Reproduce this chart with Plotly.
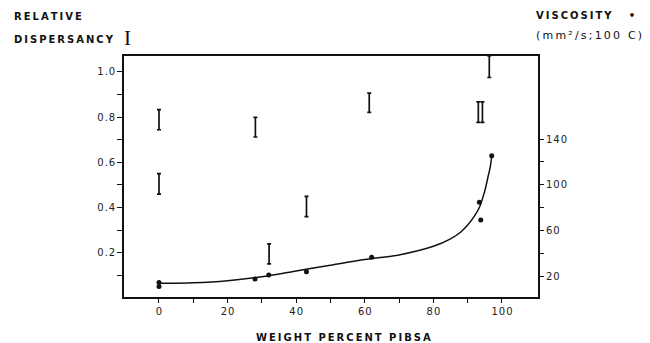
import plotly.graph_objects as go

# ---------------- data ----------------
# viscosity measurements (mm2/s at 100 C), right axis
visc_x = [0, 0, 28, 32, 43, 62, 93.4, 93.8, 97]
visc_y = [15, 11.5, 18, 21.4, 24.3, 37, 85, 69.5, 125.5]

# fitted viscosity curve, right axis
curve_x = [0, 10, 20, 30, 40, 50, 60, 70, 80, 85, 88, 90, 92, 93.5, 95, 96, 96.6, 97]
curve_y = [14.2, 14.7, 16.5, 20, 25, 30, 35, 39, 46.5, 53, 59, 65, 73, 81, 95, 108, 116, 125]

# relative dispersancy ranges (left axis)
disp_x = [0, 0, 28.1, 32.1, 43, 61.3, 93.1, 94.3, 96.3]
disp_lo = [0.744, 0.46, 0.712, 0.151, 0.36, 0.821, 0.777, 0.777, 0.975]
disp_hi = [0.833, 0.55, 0.799, 0.240, 0.45, 0.906, 0.867, 0.867, 1.07]

x_ticks = [0, 10, 20, 30, 40, 50, 60, 70, 80, 90, 100]
x_labels = ["0", "", "20", "", "40", "", "60", "", "80", "", "100"]
yl_ticks = [0.1, 0.2, 0.3, 0.4, 0.5, 0.6, 0.7, 0.8, 0.9, 1.0]
yl_labels = ["", "0.2", "", "0.4", "", "0.6", "", "0.8", "", "1.0"]
yr_ticks = [20, 40, 60, 80, 100, 120, 140]
yr_labels = ["20", "", "60", "", "100", "", "140"]

# ---------------- layout geometry ----------------
W, H = 650, 343
L, R, T, B = 124, 112, 56, 46
PW, PH = W - L - R, H - T - B


def px(x):
    return (x - L) / PW


def py(y):
    return (H - B - y) / PH


HS = "\u200a"
TS = "\u2009"
NB = "\u00a0"


def spaced(s, sep=TS, gap=NB):
    return (sep + gap + sep).join(sep.join(list(w)) for w in s.split(" "))


def tspaced(s):
    return HS.join(list(s))


mid = [(a + b) / 2 for a, b in zip(disp_lo, disp_hi)]
up = [b - m for b, m in zip(disp_hi, mid)]
dn = [m - a for a, m in zip(disp_lo, mid)]

fig = go.Figure()

fig.add_trace(go.Scatter(
    x=disp_x, y=mid, mode="markers",
    marker=dict(size=1, color="rgba(0,0,0,0)"),
    error_y=dict(type="data", symmetric=False, array=up, arrayminus=dn,
                 color="#111", thickness=1.7, width=2.0),
    hoverinfo="skip", showlegend=False, yaxis="y",
))

fig.add_trace(go.Scatter(
    x=curve_x, y=curve_y, mode="lines",
    line=dict(color="#111", width=1.5, shape="spline", smoothing=0.8),
    showlegend=False, yaxis="y2",
))

fig.add_trace(go.Scatter(
    x=visc_x, y=visc_y, mode="markers",
    marker=dict(size=5, color="#111"),
    showlegend=False, yaxis="y2",
))

tickfont = dict(family="DejaVu Sans", size=10, color="#222")
boldfont = dict(family="DejaVu Sans", size=10, color="#111", weight="bold")

fig.update_layout(
    width=W, height=H,
    margin=dict(l=L, r=R, t=T, b=B, pad=0),
    paper_bgcolor="white", plot_bgcolor="white",
    showlegend=False,
    xaxis=dict(
        range=[-10.2, 110.5], tickvals=x_ticks, ticktext=[tspaced(s) for s in x_labels],
        ticks="outside", ticklen=4, tickwidth=1, tickcolor="#111",
        showline=True, linecolor="#111", linewidth=1.6, mirror=True,
        showgrid=False, zeroline=False, tickfont=tickfont,
    ),
    yaxis=dict(
        range=[0.005, 1.07], tickvals=yl_ticks, ticktext=[tspaced(s) for s in yl_labels],
        ticks="outside", ticklen=5, tickwidth=1, tickcolor="#111",
        showline=True, linecolor="#111", linewidth=1.6, mirror=True,
        showgrid=False, zeroline=False, tickfont=tickfont,
    ),
    yaxis2=dict(
        range=[2.3, 212.4], overlaying="y", side="right",
        tickvals=yr_ticks, ticktext=[tspaced(s) for s in yr_labels],
        ticks="outside", ticklen=5, tickwidth=1, tickcolor="#111",
        showline=False, showgrid=False, zeroline=False, tickfont=tickfont,
    ),
)

ann = [
    dict(text=spaced("RELATIVE"), x=px(12), y=py(17), xanchor="left", yanchor="middle", font=boldfont),
    dict(text=spaced("DISPERSANCY"), x=px(12), y=py(39), xanchor="left", yanchor="middle", font=boldfont),
    dict(text="I", x=px(127), y=py(37.5), xanchor="center", yanchor="middle",
         font=dict(family="Liberation Serif", size=21, color="#111")),
    dict(text=spaced("VISCOSITY") + NB * 5 + "•", x=px(534), y=py(16), xanchor="left", yanchor="middle", font=boldfont),
    dict(text=TS.join(list("(mm²/s;100")) + TS + NB + TS + TS.join(list("C)")), x=px(534), y=py(35),
         xanchor="left", yanchor="middle", font=dict(family="DejaVu Sans", size=11, color="#111")),
    dict(text=spaced("WEIGHT PERCENT PIBSA"), x=px(343), y=py(337), xanchor="center", yanchor="middle", font=boldfont),
]
for a in ann:
    a.update(xref="paper", yref="paper", showarrow=False)
fig.update_layout(annotations=ann)

fig.write_html("out.html")
